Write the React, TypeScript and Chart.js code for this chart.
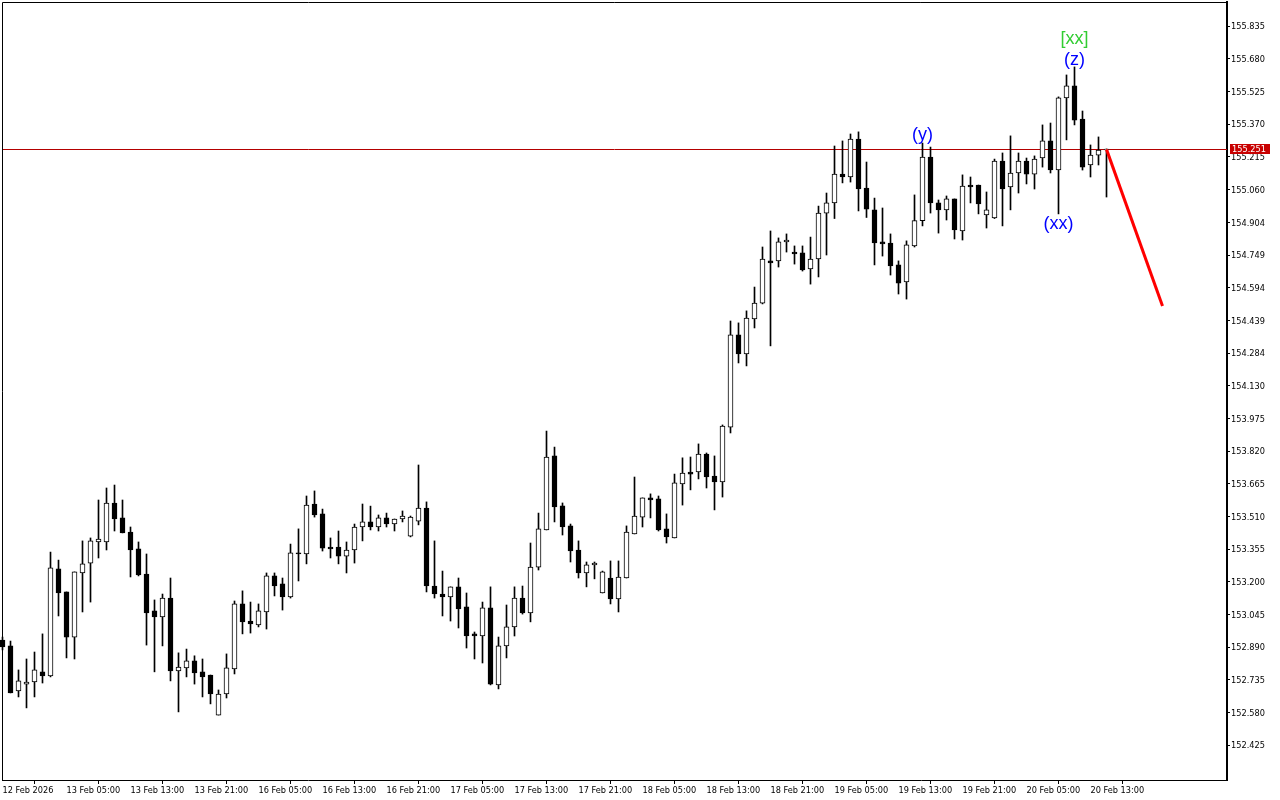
import React, { useEffect, useRef } from "react";
import { Chart, registerables } from "chart.js";

Chart.register(...registerables);

// ---- DATA (hourly bars) ----
const opens = [
  152.924, 152.896, 152.682, 152.715, 152.725, 152.773, 152.754, 153.261, 153.152, 152.938,
  153.242, 153.289, 153.389, 153.389, 153.574, 153.503, 153.436, 153.356, 153.237, 153.062,
  153.033, 153.123, 152.777, 152.792, 152.825, 152.773, 152.758, 152.568, 152.668, 152.787,
  153.095, 153.014, 152.995, 153.057, 153.228, 153.190, 153.128, 153.337, 153.332, 153.569,
  153.522, 153.365, 153.365, 153.322, 153.351, 153.460, 153.484, 153.460, 153.503, 153.474,
  153.498, 153.417, 153.488, 153.550, 153.180, 153.142, 153.128, 153.176, 153.081, 152.953,
  152.943, 153.076, 152.711, 152.896, 152.986, 153.123, 153.052, 153.270, 153.446, 153.797,
  153.560, 153.465, 153.351, 153.242, 153.280, 153.147, 153.218, 153.119, 153.218, 153.427,
  153.507, 153.598, 153.593, 153.451, 153.408, 153.664, 153.721, 153.721, 153.806, 153.702,
  153.674, 153.934, 154.371, 154.281, 154.447, 154.522, 154.722, 154.722, 154.812, 154.764,
  154.760, 154.684, 154.731, 154.949, 154.997, 155.134, 155.120, 155.300, 155.068, 154.964,
  154.812, 154.807, 154.703, 154.622, 154.793, 154.913, 155.215, 154.997, 154.964, 155.016,
  154.864, 155.082, 155.082, 154.940, 154.926, 155.196, 155.073, 155.139, 155.196, 155.134,
  155.210, 155.291, 155.153, 155.495, 155.552, 155.395, 155.177, 155.224, 155.248,
];
const highs = [
  152.938, 152.919, 152.782, 152.834, 152.867, 152.953, 153.341, 153.303, 153.152, 153.247,
  153.394, 153.408, 153.588, 153.645, 153.659, 153.588, 153.460, 153.389, 153.332, 153.114,
  153.142, 153.218, 152.863, 152.881, 152.849, 152.834, 152.758, 152.687, 152.858, 153.109,
  153.157, 153.104, 153.095, 153.242, 153.242, 153.218, 153.379, 153.451, 153.607, 153.631,
  153.545, 153.408, 153.441, 153.389, 153.474, 153.569, 153.559, 153.517, 153.526, 153.498,
  153.536, 153.512, 153.754, 153.579, 153.394, 153.251, 153.176, 153.218, 153.147, 152.962,
  153.104, 153.176, 152.938, 153.090, 153.176, 153.180, 153.384, 153.526, 153.915, 153.839,
  153.574, 153.474, 153.394, 153.294, 153.294, 153.251, 153.299, 153.299, 153.465, 153.697,
  153.598, 153.617, 153.607, 153.522, 153.711, 153.788, 153.792, 153.854, 153.811, 153.797,
  153.944, 154.437, 154.428, 154.485, 154.598, 154.788, 154.864, 154.831, 154.850, 154.793,
  154.793, 154.835, 154.982, 155.044, 155.267, 155.291, 155.324, 155.334, 155.191, 155.020,
  154.973, 154.850, 154.722, 154.817, 155.035, 155.281, 155.262, 155.011, 155.030, 155.016,
  155.130, 155.120, 155.082, 155.049, 155.205, 155.234, 155.315, 155.234, 155.210, 155.220,
  155.367, 155.376, 155.500, 155.604, 155.642, 155.433, 155.272, 155.310, 155.253,
];
const lows = [
  152.877, 152.673, 152.654, 152.602, 152.654, 152.720, 152.749, 153.038, 152.839, 152.834,
  153.057, 153.104, 153.313, 153.351, 153.441, 153.432, 153.223, 153.228, 152.900, 152.773,
  152.896, 152.730, 152.583, 152.749, 152.715, 152.654, 152.621, 152.568, 152.649, 152.763,
  152.953, 152.957, 152.986, 152.976, 153.133, 153.066, 153.123, 153.204, 153.285, 153.507,
  153.346, 153.313, 153.285, 153.242, 153.289, 153.394, 153.446, 153.441, 153.460, 153.441,
  153.484, 153.413, 153.470, 153.152, 153.123, 153.038, 153.014, 152.981, 152.886, 152.834,
  152.815, 152.711, 152.692, 152.839, 152.943, 153.047, 153.010, 153.256, 153.446, 153.484,
  153.422, 153.294, 153.218, 153.176, 153.214, 153.147, 153.095, 153.057, 153.218, 153.427,
  153.460, 153.503, 153.441, 153.384, 153.408, 153.564, 153.636, 153.688, 153.645, 153.541,
  153.602, 153.906, 154.238, 154.224, 154.404, 154.518, 154.319, 154.693, 154.764, 154.707,
  154.674, 154.612, 154.646, 154.750, 154.923, 155.092, 155.096, 154.959, 154.928, 154.703,
  154.745, 154.655, 154.565, 154.541, 154.788, 154.888, 154.949, 154.854, 154.916, 154.826,
  154.821, 154.997, 154.945, 154.878, 154.923, 154.888, 154.964, 155.044, 155.087, 155.063,
  155.167, 155.139, 154.945, 155.296, 155.367, 155.153, 155.120, 155.177, 155.025,
];
const closes = [
  152.891, 152.673, 152.730, 152.725, 152.782, 152.754, 153.266, 153.147, 152.938, 153.247,
  153.285, 153.394, 153.403, 153.574, 153.498, 153.432, 153.351, 153.233, 153.052, 153.033,
  153.123, 152.777, 152.796, 152.825, 152.768, 152.749, 152.668, 152.668, 152.792, 153.095,
  153.010, 153.000, 153.062, 153.228, 153.180, 153.128, 153.337, 153.332, 153.564, 153.517,
  153.360, 153.356, 153.322, 153.351, 153.460, 153.484, 153.460, 153.503, 153.474, 153.498,
  153.512, 153.507, 153.550, 153.180, 153.142, 153.128, 153.176, 153.071, 152.943, 152.943,
  153.076, 152.715, 152.896, 152.986, 153.123, 153.052, 153.270, 153.451, 153.792, 153.555,
  153.460, 153.346, 153.242, 153.280, 153.289, 153.247, 153.119, 153.223, 153.436, 153.512,
  153.598, 153.588, 153.446, 153.413, 153.669, 153.716, 153.711, 153.806, 153.697, 153.674,
  153.939, 154.371, 154.281, 154.451, 154.522, 154.731, 154.712, 154.812, 154.821, 154.755,
  154.679, 154.731, 154.949, 154.997, 155.134, 155.120, 155.300, 155.063, 154.968, 154.807,
  154.802, 154.698, 154.617, 154.798, 154.913, 155.215, 154.997, 154.964, 155.016, 154.869,
  155.077, 155.073, 154.992, 154.964, 155.196, 155.063, 155.139, 155.196, 155.134, 155.205,
  155.291, 155.153, 155.495, 155.552, 155.390, 155.167, 155.224, 155.248, 155.251,
];

// one label every 8 hourly bars
const timeLabels = [
  "12 Feb 2026", "13 Feb 05:00", "13 Feb 13:00", "13 Feb 21:00", "16 Feb 05:00", "16 Feb 13:00",
  "16 Feb 21:00", "17 Feb 05:00", "17 Feb 13:00", "17 Feb 21:00", "18 Feb 05:00", "18 Feb 13:00",
  "18 Feb 21:00", "19 Feb 05:00", "19 Feb 13:00", "19 Feb 21:00", "20 Feb 05:00", "20 Feb 13:00",
];
const barsPerLabel = 8;

const priceTicks = [
  "152.425", "152.580", "152.735", "152.890", "153.045", "153.200", "153.355", "153.510",
  "153.665", "153.820", "153.975", "154.130", "154.284", "154.439", "154.594", "154.749",
  "154.904", "155.060", "155.215", "155.370", "155.525", "155.680", "155.835",
];

const currentPrice = 155.251;
const currentPriceLabel = "155.251";

// projected move (red line)
const forecastX = [138, 145];
const forecastY = [155.251, 154.508];

// wave labels
const waveTexts = ["(y)", "[xx]", "(z)", "(xx)"];
const waveX = [115, 134, 134, 132];
const waveY = [155.319, 155.772, 155.677, 154.897];
const waveColors = ["#0000FF", "#32CD32", "#0000FF", "#0000FF"];

const X_MIN = -0.0625;
const X_MAX = 153.0625;
const Y_MIN = 152.26;
const Y_MAX = 155.95;
const AXIS_FONT = { family: "'DejaVu Sans', sans-serif", size: 8.2 };

export default function App() {
  const ref = useRef<HTMLCanvasElement | null>(null);

  useEffect(() => {
    document.body.style.margin = "0";
    const canvas = ref.current;
    if (!canvas) return;

    const idx = opens.map((_, i) => i);
    const wickData = idx.map((i) => ({ x: i, y: [lows[i], highs[i]] }));
    const bodyData = idx.map((i) => ({ x: i, y: [opens[i], closes[i]] }));
    const bodyFill = idx.map((i) => (closes[i] > opens[i] ? "#FFFFFF" : "#000000"));
    const forecastData = forecastX.map((x, i) => ({ x, y: forecastY[i] }));

    const overlay = {
      id: "overlay",
      beforeDatasetsDraw(chart: any) {
        const { ctx, chartArea, scales } = chart;
        const y = Math.round(scales.y.getPixelForValue(currentPrice)) + 0.5;
        ctx.save();
        ctx.strokeStyle = "#B40000";
        ctx.lineWidth = 1;
        ctx.beginPath();
        ctx.moveTo(chartArea.left, y);
        ctx.lineTo(chartArea.right, y);
        ctx.stroke();
        ctx.restore();
      },
      afterDatasetsDraw(chart: any) {
        const { ctx, scales } = chart;
        ctx.save();
        ctx.font = "18px 'Liberation Sans', Arial, sans-serif";
        ctx.textAlign = "center";
        ctx.textBaseline = "middle";
        waveTexts.forEach((t, i) => {
          ctx.fillStyle = waveColors[i];
          ctx.fillText(t, scales.x.getPixelForValue(waveX[i]), scales.y.getPixelForValue(waveY[i]));
        });
        ctx.restore();
      },
      afterDraw(chart: any) {
        const { ctx, chartArea, scales } = chart;
        ctx.save();
        // frame (top & left)
        ctx.strokeStyle = "#000";
        ctx.lineWidth = 1;
        ctx.beginPath();
        ctx.moveTo(chartArea.left + 0.5, chartArea.bottom);
        ctx.lineTo(chartArea.left + 0.5, chartArea.top + 0.5);
        ctx.lineTo(chartArea.right, chartArea.top + 0.5);
        ctx.stroke();
        // current price tag
        const y = Math.round(scales.y.getPixelForValue(currentPrice));
        ctx.fillStyle = "#C80000";
        ctx.fillRect(chartArea.right + 3, y - 5, 40, 10);
        ctx.fillStyle = "#FFFFFF";
        ctx.font = `${AXIS_FONT.size}px ${AXIS_FONT.family}`;
        ctx.textAlign = "left";
        ctx.textBaseline = "middle";
        ctx.fillText(currentPriceLabel, chartArea.right + 5, y + 0.5);
        ctx.restore();
      },
    };

    const chart = new Chart(canvas, {
      type: "bar",
      data: {
        datasets: [
          {
            type: "line",
            data: forecastData,
            borderColor: "#FF0000",
            borderWidth: 3,
            pointRadius: 0,
            order: 0,
          } as any,
          {
            data: bodyData as any,
            backgroundColor: bodyFill,
            borderColor: "#000000",
            borderWidth: 1,
            borderSkipped: false,
            barThickness: 5,
            minBarLength: 1,
            grouped: false,
            clip: false as any,
            order: 1,
          } as any,
          {
            data: wickData as any,
            backgroundColor: "#000000",
            borderWidth: 0,
            barThickness: 1,
            grouped: false,
            clip: false as any,
            order: 2,
          } as any,
        ],
      },
      options: {
        responsive: false,
        animation: false,
        devicePixelRatio: 1,
        events: [],
        layout: { padding: { left: 2, top: 2, right: 0, bottom: 0 } },
        plugins: { legend: { display: false }, tooltip: { enabled: false } },
        scales: {
          x: {
            type: "linear",
            position: "bottom",
            min: X_MIN,
            max: X_MAX,
            offset: false,
            afterBuildTicks: (scale: any) => {
              scale.ticks = timeLabels.map((_, i) => ({ value: i * barsPerLabel }));
            },
            afterFit: (scale: any) => {
              scale.height = 20;
              scale.paddingLeft = 0;
              scale.paddingRight = 0;
              scale.paddingTop = 0;
              scale.paddingBottom = 0;
            },
            ticks: {
              autoSkip: false,
              maxRotation: 0,
              align: "start",
              padding: 2,
              color: "#000",
              font: AXIS_FONT,
              callback: (_v: any, i: number) => timeLabels[i],
            },
            grid: {
              display: true,
              drawOnChartArea: false,
              drawTicks: true,
              tickLength: 4,
              color: "#000",
              tickColor: "#000",
            },
            border: { display: true, color: "#000", width: 1 },
          },
          y: {
            type: "linear",
            position: "right",
            min: Y_MIN,
            max: Y_MAX,
            afterBuildTicks: (scale: any) => {
              scale.ticks = priceTicks.map((s) => ({ value: parseFloat(s) }));
            },
            afterFit: (scale: any) => {
              scale.width = 53;
              scale.paddingLeft = 0;
              scale.paddingRight = 0;
              scale.paddingTop = 0;
              scale.paddingBottom = 0;
            },
            ticks: {
              autoSkip: false,
              padding: 1,
              labelOffset: 1,
              color: "#000",
              font: AXIS_FONT,
              callback: (_v: any, i: number) => priceTicks[i],
            },
            grid: {
              display: true,
              drawOnChartArea: false,
              drawTicks: true,
              tickLength: 3,
              color: "#000",
              tickColor: "#000",
            },
            border: { display: true, color: "#000", width: 2 },
          },
        },
      } as any,
      plugins: [overlay],
    });

    return () => chart.destroy();
  }, []);

  return (
    <div style={{ width: 1280, height: 800, background: "#FFFFFF" }}>
      <canvas ref={ref} width={1280} height={800} style={{ display: "block" }} />
    </div>
  );
}
